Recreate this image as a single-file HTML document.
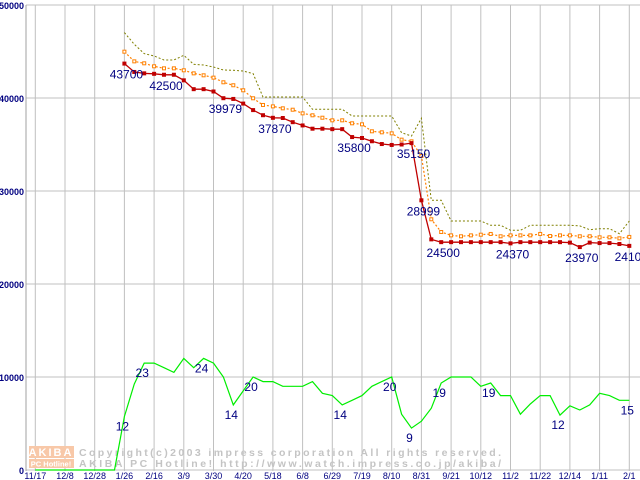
<!DOCTYPE html>
<html><head><meta charset="utf-8"><style>
html,body{margin:0;padding:0;background:#fff;}
svg{display:block;}
text{font-family:"Liberation Sans",sans-serif;}
</style></head><body>
<svg id="chart" width="640" height="480" viewBox="0 0 640 480" xmlns="http://www.w3.org/2000/svg">
<g id="grid"></g>
<g id="yticks"></g>
<g id="xticks"></g>
<g id="watermark">
  <rect x="29" y="446" width="45" height="12" fill="#f8c8a8"/>
  <text x="51" y="456" font-size="11" font-weight="bold" fill="#fff" text-anchor="middle" letter-spacing="2">AKIBA</text>
  <rect x="29" y="459" width="45" height="9" fill="#f8c8a8"/>
  <text x="51" y="466.5" font-size="7.5" font-weight="bold" fill="#fff" text-anchor="middle">PC Hotline!</text>
  <text x="79" y="456" font-size="10.5" font-weight="bold" fill="#c4c4c4" font-family="Liberation Mono, monospace" textLength="422">Copyright(c)2003 impress corporation All rights reserved.</text>
  <text x="79" y="467" font-size="10.5" font-weight="bold" fill="#c4c4c4" font-family="Liberation Mono, monospace" textLength="422">AKIBA PC Hotline!  http://www.watch.impress.co.jp/akiba/</text>
</g>
<g id="series"></g>
<g id="labels"></g>
</svg>
<script>
const xLabels=["11/17","12/8","12/28","1/26","2/16","3/9","3/30","4/20","5/18","6/8","6/29","7/19","8/10","8/31","9/21","10/12","11/2","11/22","12/14","1/11","2/1"];
const yTicks=[0,10000,20000,30000,40000,50000];
const startIndex=9;
const minPrice=[43700,42800,42650,42600,42500,42500,41900,40950,40950,40700,39979,39900,39400,38700,38150,37870,37850,37400,37050,36700,36700,36650,36650,35800,35700,35350,35050,34950,35000,35150,28999,24800,24500,24500,24500,24500,24500,24500,24500,24370,24500,24500,24500,24500,24500,24450,23970,24450,24400,24400,24300,24100];
const avgPrice=[44980,43940,43730,43410,43190,43190,42980,42650,42440,42190,41690,41370,40830,39970,39250,39100,38890,38740,38350,38140,37880,37600,37600,37280,37170,36420,36310,36200,35520,35340,33760,26960,25590,25230,25130,25230,25300,25380,25130,25230,25230,25230,25380,25160,25230,25230,25130,25130,25020,25020,24910,25060];
const maxPrice=[47030,45770,44770,44520,44090,44090,44590,43620,43550,43330,43010,42980,42900,42620,40100,40110,40110,40110,40110,38780,38780,38780,38780,38060,38060,38060,38060,38060,36270,35910,37820,29000,29000,26770,26770,26770,26770,26310,26310,25770,25770,26310,26310,26310,26310,26310,26250,25840,25950,25950,25410,26770];
const shopCount=[0,0,0,0,0,0,0,0,0,11.5,18.5,23,23,22,21,24,22,24,23,20,14,17,20,19,19,18,18,18,19,16.5,16,14,15,16,18,19,20,12,9,10.5,13.3,18.7,20,20,20,18,18.7,16,16,12,14.2,16,16,11.8,13.8,12.9,14,16.5,16,15,15];
const priceLabelIdx=[9,13,19,24,32,38,39,41,48,55,60];
const priceLabelText=["43700","42500","39979","37870","35800","35150","28999","24500","24370","23970","24100"];
const countLabelIdx=[9,11,17,20,22,31,36,38,41,46,53,60];
const countScale=500;

const X0=35.3, DX=9.9, Y0=470, PY=0.0093;
const x=i=>X0+DX*i;
const y=v=>Y0-v*PY;
const NS="http://www.w3.org/2000/svg";
function mk(tag,attrs,parent){const e=document.createElementNS(NS,tag);for(const k in attrs)e.setAttribute(k,attrs[k]);parent.appendChild(e);return e;}
const grid=document.getElementById('grid'),yt=document.getElementById('yticks'),xt=document.getElementById('xticks'),ser=document.getElementById('series'),lab=document.getElementById('labels');

yTicks.forEach(v=>{
  const l=mk('line',{x1:26,x2:640,y1:y(v),y2:y(v),stroke:'#c0c0c0','stroke-width':1},grid);
  
  
  const t=mk('text',{x:24,y:y(v)+4,'font-size':9,'font-weight':'bold',fill:'#000080','text-anchor':'end'},yt);
  t.textContent=v;
  
  
});
const ax=mk('line',{x1:26,x2:26,y1:y(50000),y2:471,stroke:'#a0a0a0','stroke-width':1},grid);


xLabels.forEach((s,k)=>{
  const xx=x(k*3);
  const l=mk('line',{x1:xx,x2:xx,y1:y(50000),y2:471,stroke:'#c0c0c0','stroke-width':1},grid);
  
  
  const t=mk('text',{x:xx,y:479,'font-size':9,fill:'#000080','text-anchor':'middle'},xt);
  t.textContent=s;
  
  
});

function pts(arr,off){return arr.map((v,j)=>x(j+off).toFixed(1)+','+y(v).toFixed(1)).join(' ');}
const maxL=mk('polyline',{points:pts(maxPrice,startIndex),fill:'none',stroke:'#808000','stroke-width':1,'stroke-dasharray':'2,2'},ser);


const avgL=mk('polyline',{points:pts(avgPrice,startIndex),fill:'none',stroke:'#ff8000','stroke-width':1.2,'stroke-dasharray':'2,2'},ser);


avgPrice.forEach((v,j)=>{
  const r=mk('rect',{x:x(j+startIndex)-1.5,y:y(v)-1.5,width:3,height:3,fill:'#fff',stroke:'#ff8000','stroke-width':1},ser);
  
  
});
const minL=mk('polyline',{points:pts(minPrice,startIndex),fill:'none',stroke:'#c00000','stroke-width':1.3},ser);


minPrice.forEach((v,j)=>{
  const r=mk('rect',{x:x(j+startIndex)-2,y:y(v)-2,width:4,height:4,fill:'#c00000'},ser);
  
  
});
const cnt=mk('polyline',{points:shopCount.map((c,i)=>x(i).toFixed(1)+','+y(c*countScale).toFixed(1)).join(' '),fill:'none',stroke:'#00ee00','stroke-width':1.2},ser);



priceLabelIdx.forEach((i,k)=>{
  const v=minPrice[i-startIndex];
  const t=mk('text',{x:x(i)+2,y:y(v)+15,'font-size':12,fill:'#000080','text-anchor':'middle'},lab);
  t.textContent=priceLabelText[k];
  
  
});
countLabelIdx.forEach(i=>{
  const c=shopCount[i];
  const t=mk('text',{x:x(i)-2,y:y(c*countScale)+14,'font-size':12,fill:'#000080','text-anchor':'middle'},lab);
  t.textContent=Math.round(c);
  
  
});
</script>
</body></html>
